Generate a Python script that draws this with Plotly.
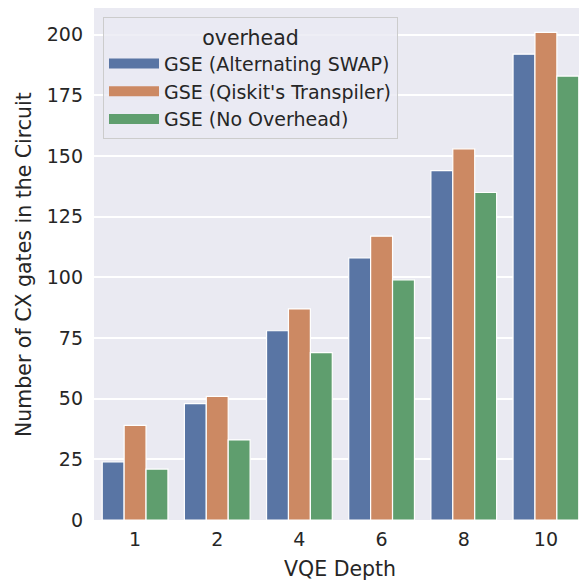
import plotly.graph_objects as go

depths = ["1", "2", "4", "6", "8", "10"]
series_names = ["GSE (Alternating SWAP)", "GSE (Qiskit's Transpiler)", "GSE (No Overhead)"]
alternating_swap = [24, 48, 78, 108, 144, 192]
qiskit_transpiler = [39, 51, 87, 117, 153, 201]
no_overhead = [21, 33, 69, 99, 135, 183]
y_ticks = [0, 25, 50, 75, 100, 125, 150, 175, 200]

colors = ["#5975A4", "#CC8963", "#5F9E6E"]
values = [alternating_swap, qiskit_transpiler, no_overhead]

# the page body adds an 8px offset; work in figure coordinates = reference - 8
OFF = 8
W, H = 587 - OFF, 580 - OFF
ML, MR, MT = 94 - OFF, 0, 8 - OFF
plot_bottom = 520 - OFF
MB = H - plot_bottom
pw, ph = W - ML - MR, H - MT - MB

fig = go.Figure()
for i, (name, vals, c) in enumerate(zip(series_names, values, colors)):
    fig.add_trace(go.Bar(
        x=depths, y=vals, name=name, legendgroup=f"g{i}", showlegend=False,
        marker=dict(color=c, line=dict(color="white", width=1.2)),
    ))
# legend swatches as wide rectangles (seaborn-style patches)
for i, (name, c) in enumerate(zip(series_names, colors)):
    fig.add_trace(go.Scatter(
        x=[None], y=[None], name=name, legendgroup=f"g{i}", mode="lines",
        line=dict(color=c, width=13), hoverinfo="skip",
    ))

font_family = "DejaVu Sans"
txt = "#262626"

def px_x(x):
    return (x - OFF - ML) / pw

def px_y(y):
    return (plot_bottom - (y - OFF)) / ph

fig.update_layout(
    width=W, height=H,
    margin=dict(l=ML, r=MR, t=MT, b=MB, autoexpand=False),
    paper_bgcolor="white",
    plot_bgcolor="#EAEAF2",
    barmode="group",
    bargap=0.2,
    bargroupgap=0,
    font=dict(family=font_family, color=txt, size=19),
    showlegend=True,
    legend=dict(
        x=px_x(103), y=px_y(17),
        xanchor="left", yanchor="top",
        bgcolor="rgba(234,234,242,0.8)",
        bordercolor="#CCCCCC", borderwidth=1,
        font=dict(family=font_family, size=19, color=txt),
        title=dict(text="overhead", side="top center",
                   font=dict(family=font_family, size=20.5, color=txt)),
        traceorder="normal",
        itemwidth=50,
        tracegroupgap=2,
    ),
    xaxis=dict(
        type="category",
        categoryorder="array", categoryarray=depths,
        range=[-0.5, 5.5],
        showgrid=False, zeroline=False, showline=False,
        ticks="", ticklabelstandoff=6,
        tickfont=dict(family=font_family, size=19, color=txt),
        automargin=False,
    ),
    yaxis=dict(
        range=[0, 211.05],
        tickvals=y_ticks,
        showgrid=True, gridcolor="white", gridwidth=1.5,
        zeroline=False, showline=False,
        ticks="", ticklabelstandoff=10,
        tickfont=dict(family=font_family, size=19, color=txt),
        automargin=False,
    ),
    annotations=[
        dict(text="VQE Depth", xref="paper", yref="paper",
             x=px_x(340), y=px_y(569),
             xanchor="center", yanchor="middle", showarrow=False,
             font=dict(family=font_family, size=20.5, color=txt)),
        dict(text="Number of CX gates in the Circuit", xref="paper", yref="paper",
             x=px_x(24), y=px_y(265),
             xanchor="center", yanchor="middle", textangle=-90, showarrow=False,
             font=dict(family=font_family, size=20.5, color=txt)),
    ],
)

fig.write_html("out.html")
